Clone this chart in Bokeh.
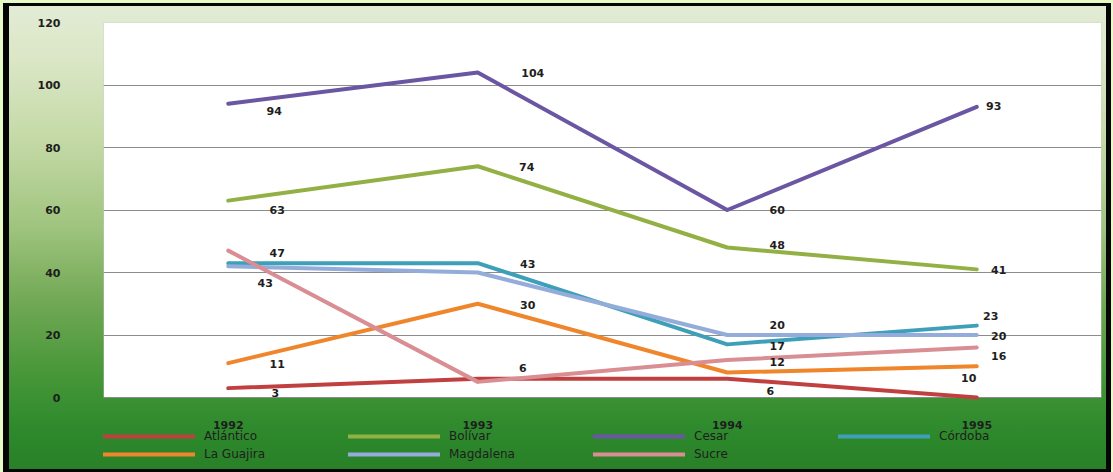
from bokeh.plotting import figure
from bokeh.models import (ColumnDataSource, FactorRange, Range1d, FixedTicker,
                          Legend, LegendItem, BoxAnnotation)
from bokeh.embed import file_html
from bokeh.resources import INLINE

# Years on the category axis
years = ["1992", "1993", "1994", "1995"]

# Departments, one series per line
atlantico = [3, 6, 6, 0]
bolivar = [63, 74, 48, 41]
cesar = [94, 104, 60, 93]
cordoba = [43, 43, 17, 23]
la_guajira = [11, 30, 8, 10]
magdalena = [42, 40, 20, 20]
sucre = [47, 5, 12, 16]

y_ticks = [0, 20, 40, 60, 80, 100, 120]

series = [
    ("Atlántico", atlantico, "#c0403f"),
    ("Bolívar", bolivar, "#93b044"),
    ("Cesar", cesar, "#6a56a2"),
    ("Córdoba", cordoba, "#3ea0b8"),
    ("La Guajira", la_guajira, "#f0862c"),
    ("Magdalena", magdalena, "#93acd9"),
    ("Sucre", sucre, "#d98e93"),
]

# Pixel offsets of each value label from its point (None = label not shown)
label_offsets = {
    "Atlántico": [(47, 5), (45, -11), (43, 12), None],
    "Bolívar": [(49, 9), (49, 1), (50, -3), (22, 1)],
    "Cesar": [(46, 7), (55, 0), (50, 0), (17, -1)],
    "Córdoba": [(37, 20), (50, 1), (50, 2), (14, -10)],
    "La Guajira": [(49, 1), (50, 1), None, (-8, 12)],
    "Magdalena": [None, None, (50, -10), (22, 1)],
    "Sucre": [(49, 2), None, (50, 2), (22, 8)],
}

FONT = "DejaVu Sans"
TEXT = "#1e1e1e"

# The frame runs down to the bottom edge so that the legend can sit in it;
# the white plotting area covers only 0..120.
p = figure(width=1113, height=472, x_range=FactorRange(*years),
           y_range=Range1d(-24, 120), output_backend="svg",
           toolbar_location=None, min_border_left=103, min_border_right=12,
           min_border_top=22, min_border_bottom=0)

p.border_fill_color = None
p.background_fill_color = None
p.outline_line_color = None

# Green panel with dark frame behind everything
p.styles = {
    "background": "linear-gradient(to bottom, #e3ecd6 0%, #dbe7c7 12%, "
                  "#c4d9a6 30%, #9fc47e 48%, #71a855 64%, #4a983a 78%, "
                  "#2f8b2d 90%, #287f27 100%)",
    "box-shadow": "inset 3px 0 0 0 #e6fbc6, inset 0 3px 0 0 #e6fbc6, "
                  "inset -2px 0 0 0 #e6fbc6, inset 9px 0 0 0 #050505, "
                  "inset 0 6px 0 0 #050505, inset -7px 0 0 0 #050505, "
                  "inset 0 -3px 0 0 #050505",
}

plot_area = BoxAnnotation(bottom=0, top=120, fill_color="white", fill_alpha=1,
                          line_color="#8a8a8a", line_width=1, level="image")
p.add_layout(plot_area)

p.xgrid.grid_line_color = None
p.ygrid.grid_line_color = "#8c8c8c"
p.ygrid.grid_line_width = 1
p.yaxis.ticker = FixedTicker(ticks=y_ticks)
p.ygrid.ticker = FixedTicker(ticks=y_ticks)

for ax in (p.xaxis, p.yaxis):
    ax.axis_line_color = None
    ax.major_tick_line_color = None
    ax.minor_tick_line_color = None
    ax.major_label_text_font = FONT
    ax.major_label_text_font_size = "11px"
    ax.major_label_text_font_style = "bold"
    ax.major_label_text_color = TEXT
p.yaxis.major_label_standoff = 37
p.xaxis.major_label_standoff = -58

items = []
for name, vals, color in series:
    src = ColumnDataSource(dict(x=years, y=vals))
    r = p.line("x", "y", source=src, line_color=color, line_width=4,
               line_join="round", line_cap="round")
    items.append(LegendItem(label=name, renderers=[r]))

# Value labels
for name, vals, color in series:
    xs, ys, txt, dxs, dys = [], [], [], [], []
    for yr, v, off in zip(years, vals, label_offsets[name]):
        if off is None:
            continue
        xs.append(yr)
        ys.append(v)
        txt.append(str(v))
        dxs.append(off[0])
        dys.append(off[1])
    src = ColumnDataSource(dict(x=xs, y=ys, t=txt, dx=dxs, dy=dys))
    p.text("x", "y", text="t", source=src, x_offset="dx", y_offset="dy",
           text_align="center", text_baseline="middle",
           text_font_size="11px", text_font_style="bold",
           text_color=TEXT, text_font={"value": FONT})

# Legend in four columns beneath the category labels
legend = Legend(items=items, location=(0, 9), orientation="horizontal",
                ncols=4, glyph_width=92, glyph_height=18, label_height=18,
                label_width=144, label_standoff=9, spacing=0, padding=0,
                margin=0, border_line_color=None, background_fill_alpha=0,
                label_text_font=FONT, label_text_font_size="12px",
                label_text_color=TEXT)
p.add_layout(legend, "center")

open("out.html", "w").write(file_html(p, INLINE))
